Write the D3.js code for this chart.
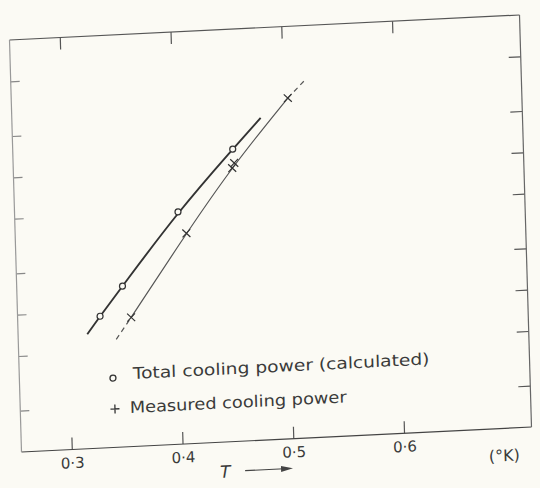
<!DOCTYPE html>
<html>
<head>
<meta charset="utf-8">
<script src="https://cdn.jsdelivr.net/npm/d3@7"></script>
<style>
    body { margin: 0; background: #fbfaf4; }
    svg { display: block; }
    text { font-family: "DejaVu Sans", sans-serif; fill: #3a3a3a; }
</style>
</head>
<body>
<div class="myChart"></div>
<script>
// values (T in degrees K, cooling power on a log axis, 3 decades, no labels)
const tempTicks = [0.3, 0.4, 0.5, 0.6]
const powerTicks = [2, 5, 10, 20, 50, 100, 200, 500]

// total cooling power (calculated), open circles
const calcT = [0.329, 0.350, 0.402, 0.453]
const calcP = [9.1, 14.8, 49, 134]
// drawn curve through the calculated points
const calcLineT = [0.317, 0.329, 0.350, 0.402, 0.453, 0.479]
const calcLineP = [6.8, 9.1, 14.8, 49, 134, 221]

// measured cooling power, crosses
const measT = [0.357, 0.409, 0.452, 0.454, 0.504]
const measP = [8.7, 34, 97.7, 106, 301]
// drawn curve through the measured points (dashed beyond the first and last point)
const measLineT = [0.343, 0.357, 0.409, 0.453, 0.504, 0.520]
const measLineP = [6.1, 8.7, 34, 102, 301, 402]

const legendLabels = ['Total cooling power (calculated)', 'Measured cooling power']

var width = 540
var height = 488

// the page was scanned a little crooked, so the frame is a slanted box
var pw = 510.6
var ph = 412.2

var svg = d3
    .select('.myChart')
    .append('svg')
    .attr('width', width)
    .attr('height', height)

var chart = svg.append('g')
    .attr('transform', `matrix(${510 / pw}, ${-25 / pw}, ${12 / ph}, ${412 / ph}, 9.5, 40)`)

var xScale = d3.scaleLinear().domain([0.2546, 0.7151]).range([0, pw])
var yScale = d3.scaleLog().domain([1, 1000]).range([ph, 0])

/**
 * frame and inward ticks on all four sides
 */
const fmt = (d) => d3.format('.1f')(d).replace('.', '\u00b7')

chart.append('g')
    .attr('class', 'axis bottom')
    .attr('transform', `translate(0, ${ph})`)
    .call(d3.axisBottom(xScale).tickValues(tempTicks).tickSizeInner(-12).tickSizeOuter(0).tickPadding(8).tickFormat(fmt))

chart.append('g')
    .attr('class', 'axis top')
    .call(d3.axisTop(xScale).tickValues(tempTicks).tickSizeInner(-12).tickSizeOuter(0).tickFormat(''))

chart.append('g')
    .attr('class', 'axis left')
    .call(d3.axisLeft(yScale).tickValues(powerTicks).tickSizeInner(-9).tickSizeOuter(0).tickFormat(''))

chart.append('g')
    .attr('class', 'axis right')
    .attr('transform', `translate(${pw}, 0)`)
    .call(d3.axisRight(yScale).tickValues(powerTicks).tickSizeInner(-12).tickSizeOuter(0).tickFormat(''))

chart.selectAll('.axis path.domain').remove()
chart.selectAll('.axis line').style('stroke', '#555').style('stroke-width', 1.2)
chart.selectAll('.axis.left line').style('stroke', '#888')
chart.selectAll('.axis text').style('font-size', '15px').style('fill', '#3a3a3a')

var frame = [
    [[0, 0], [pw, 0], '#555'],
    [[0, ph], [pw, ph], '#444'],
    [[0, 0], [0, ph], '#999'],
    [[pw, 0], [pw, ph], '#666']
]
chart.append('g')
    .selectAll('line')
    .data(frame)
    .enter()
    .append('line')
    .attr('x1', (d) => d[0][0])
    .attr('y1', (d) => d[0][1])
    .attr('x2', (d) => d[1][0])
    .attr('y2', (d) => d[1][1])
    .attr('stroke', (d) => d[2])
    .attr('stroke-width', 1.2)

/**
 * the two curves
 */
let line = d3
    .line()
    .x((d) => xScale(d[0]))
    .y((d) => yScale(d[1]))
    .curve(d3.curveBasis)

let calcLine = calcLineT.map((t, i) => [t, calcLineP[i]])
let measLine = measLineT.map((t, i) => [t, measLineP[i]])

chart.append('path')
    .attr('d', line(calcLine))
    .attr('fill', 'none')
    .attr('stroke', '#333')
    .attr('stroke-width', 1.9)

chart.append('path')
    .attr('d', line(measLine.slice(1, measLine.length - 1)))
    .attr('fill', 'none')
    .attr('stroke', '#555')
    .attr('stroke-width', 1.2)

chart.selectAll()
    .data([measLine.slice(0, 2), measLine.slice(measLine.length - 2)])
    .enter()
    .append('path')
    .attr('d', (d) => line(d))
    .attr('fill', 'none')
    .attr('stroke', '#555')
    .attr('stroke-width', 1.2)
    .attr('stroke-dasharray', '5,4')

/**
 * points
 */
chart.append('g')
    .selectAll('circle')
    .data(calcT.map((t, i) => [t, calcP[i]]))
    .enter()
    .append('circle')
    .attr('cx', (d) => xScale(d[0]))
    .attr('cy', (d) => yScale(d[1]))
    .attr('r', 3)
    .attr('fill', '#fbfaf4')
    .attr('stroke', '#333')
    .attr('stroke-width', 1.2)

const cross = d3.symbol().type(d3.symbolTimes).size(42)
chart.append('g')
    .selectAll('path')
    .data(measT.map((t, i) => [t, measP[i]]))
    .enter()
    .append('path')
    .attr('d', cross)
    .attr('transform', (d) => `translate(${xScale(d[0])}, ${yScale(d[1])})`)
    .attr('fill', 'none')
    .attr('stroke', '#333')
    .attr('stroke-width', 1.2)

/**
 * legend, axis title and unit
 */
chart.append('circle')
    .attr('cx', 93.6)
    .attr('cy', 342.8)
    .attr('r', 3)
    .attr('fill', '#fbfaf4')
    .attr('stroke', '#333')
    .attr('stroke-width', 1.3)

chart.append('path')
    .attr('d', 'M-4.5,0H4.5M0,-4.5V4.5')
    .attr('transform', 'translate(94.7, 373.8)')
    .attr('fill', 'none')
    .attr('stroke', '#333')
    .attr('stroke-width', 1.3)

chart.append('text')
    .attr('x', 113.6)
    .attr('y', 344.7)
    .attr('textLength', 297)
    .attr('lengthAdjust', 'spacingAndGlyphs')
    .style('font-size', '16px')
    .text(legendLabels[0])

chart.append('text')
    .attr('x', 109.6)
    .attr('y', 378.6)
    .attr('textLength', 217)
    .attr('lengthAdjust', 'spacingAndGlyphs')
    .style('font-size', '16px')
    .text(legendLabels[1])

chart.append('text')
    .attr('x', 198)
    .attr('y', 448)
    .style('font-size', '17px')
    .style('font-style', 'italic')
    .text('T')

chart.append('line')
    .attr('x1', 223)
    .attr('y1', 441.8)
    .attr('x2', 262)
    .attr('y2', 441.8)
    .attr('stroke', '#444')
    .attr('stroke-width', 1.1)

chart.append('path')
    .attr('d', 'M259,438.8L271,441.8L259,444.8Z')
    .attr('fill', '#444')

chart.append('text')
    .attr('x', 498)
    .attr('y', 445)
    .attr('text-anchor', 'end')
    .style('font-size', '16px')
    .text('(\u00b0K)')
</script>
</body>
</html>
